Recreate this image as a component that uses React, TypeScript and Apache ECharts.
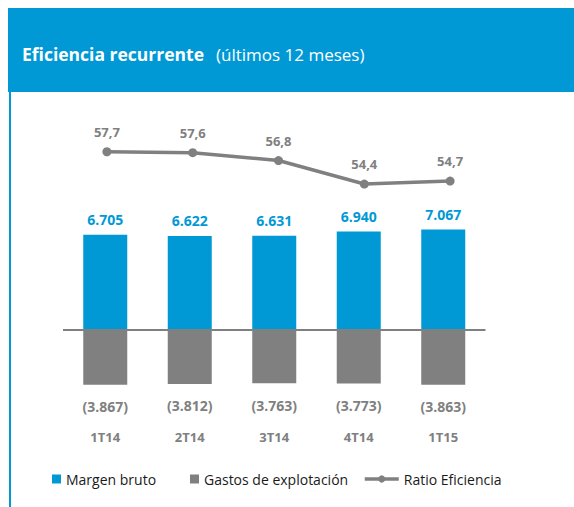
import React, { useEffect, useRef } from "react";
import * as echarts from "echarts";

const categories = ["1T14", "2T14", "3T14", "4T14", "1T15"];
const margenBruto = [6705, 6622, 6631, 6940, 7067];
const gastosExplotacion = [-3867, -3812, -3763, -3773, -3863];
const ratioEficiencia = [57.7, 57.6, 56.8, 54.4, 54.7];

const BLUE = "#0099D6";
const GRAY = "#808080";
const FONT = "'Open Sans', 'Noto Sans', sans-serif";

function fmtThousands(v: number): string {
  const s = Math.abs(v).toString().replace(/\B(?=(\d{3})+(?!\d))/g, ".");
  return v < 0 ? `(${s})` : s;
}

export default function App() {
  const ref = useRef<HTMLDivElement>(null);
  useEffect(() => {
    document.body.style.margin = "0";
    const chart = echarts.init(ref.current!, undefined, { renderer: "svg" });
    const legendText = { fontSize: 14, color: "#1a1a1a", fontFamily: FONT };
    chart.setOption({
      animation: false,
      textStyle: { fontFamily: FONT },
      graphic: [
        { type: "rect", left: 8, top: 8, shape: { width: 566, height: 84 }, style: { fill: BLUE } },
        { type: "rect", left: 9, top: 92, shape: { width: 2, height: 415 }, style: { fill: BLUE } },
        {
          type: "text",
          x: 22,
          y: 54,
          style: {
            text: "Eficiencia recurrente",
            fill: "#ffffff",
            font: `bold 17.5px ${FONT}`,
            verticalAlign: "middle",
          },
        },
        {
          type: "text",
          x: 216,
          y: 54,
          style: {
            text: "(últimos 12 meses)",
            fill: "#ffffff",
            font: `17px ${FONT}`,
            verticalAlign: "middle",
          },
        },
      ],
      legend: [
        {
          data: ["Margen bruto"],
          left: 52,
          top: 472,
          padding: 0,
          itemWidth: 9,
          itemHeight: 9,
          icon: "rect",
          textStyle: legendText,
        },
        {
          data: ["Gastos de explotación"],
          left: 190,
          top: 472,
          padding: 0,
          itemWidth: 9,
          itemHeight: 9,
          icon: "rect",
          textStyle: legendText,
        },
        {
          data: ["Ratio Eficiencia"],
          left: 363,
          top: 472,
          padding: 0,
          itemWidth: 34,
          itemHeight: 9,
          lineStyle: { width: 3.5, color: GRAY },
          textStyle: legendText,
        },
      ],
      grid: [
        { left: 63, width: 422.5, top: 117, height: 298 },
        { left: 64, width: 429, top: 117, height: 298 },
      ],
      xAxis: [
        {
          type: "category",
          gridIndex: 0,
          data: categories,
          axisLine: { show: false },
          axisTick: { show: false },
          axisLabel: {
            margin: 15,
            color: GRAY,
            fontWeight: "bold",
            fontSize: 13,
            fontFamily: FONT,
          },
        },
        {
          type: "category",
          gridIndex: 1,
          data: categories,
          show: false,
        },
      ],
      yAxis: [
        { type: "value", gridIndex: 0, min: -6000, max: 15000, show: false, splitLine: { show: false } },
        { type: "value", gridIndex: 1, min: 30.8, max: 61.25, show: false, splitLine: { show: false } },
      ],
      series: [
        {
          name: "Margen bruto",
          type: "bar",
          stack: "total",
          data: margenBruto,
          barWidth: 44,
          itemStyle: { color: BLUE },
          label: {
            show: true,
            position: "top",
            distance: 8,
            color: BLUE,
            fontWeight: "bold",
            fontSize: 14,
            fontFamily: FONT,
            formatter: (p: any) => fmtThousands(p.value),
          },
          markLine: {
            silent: true,
            symbol: "none",
            label: { show: false },
            lineStyle: { color: GRAY, width: 2, type: "solid" },
            data: [{ yAxis: 0 }],
          },
        },
        {
          name: "Gastos de explotación",
          type: "bar",
          stack: "total",
          data: gastosExplotacion,
          barWidth: 44,
          itemStyle: { color: GRAY },
          label: {
            show: true,
            position: "bottom",
            distance: 15,
            color: GRAY,
            fontWeight: "bold",
            fontSize: 14,
            fontFamily: FONT,
            formatter: (p: any) => fmtThousands(p.value),
          },
        },
        {
          name: "Ratio Eficiencia",
          type: "line",
          xAxisIndex: 1,
          yAxisIndex: 1,
          data: ratioEficiencia,
          symbol: "circle",
          symbolSize: 9,
          lineStyle: { color: GRAY, width: 3.5 },
          itemStyle: { color: GRAY },
          label: {
            show: true,
            position: "top",
            distance: 9,
            color: GRAY,
            fontWeight: "bold",
            fontSize: 13,
            fontFamily: FONT,
            formatter: (p: any) => String(p.value).replace(".", ","),
          },
        },
      ],
    });
    return () => chart.dispose();
  }, []);
  return (
    <div
      ref={ref}
      style={{ position: "absolute", left: 0, top: 0, width: 574, height: 507 }}
    />
  );
}
